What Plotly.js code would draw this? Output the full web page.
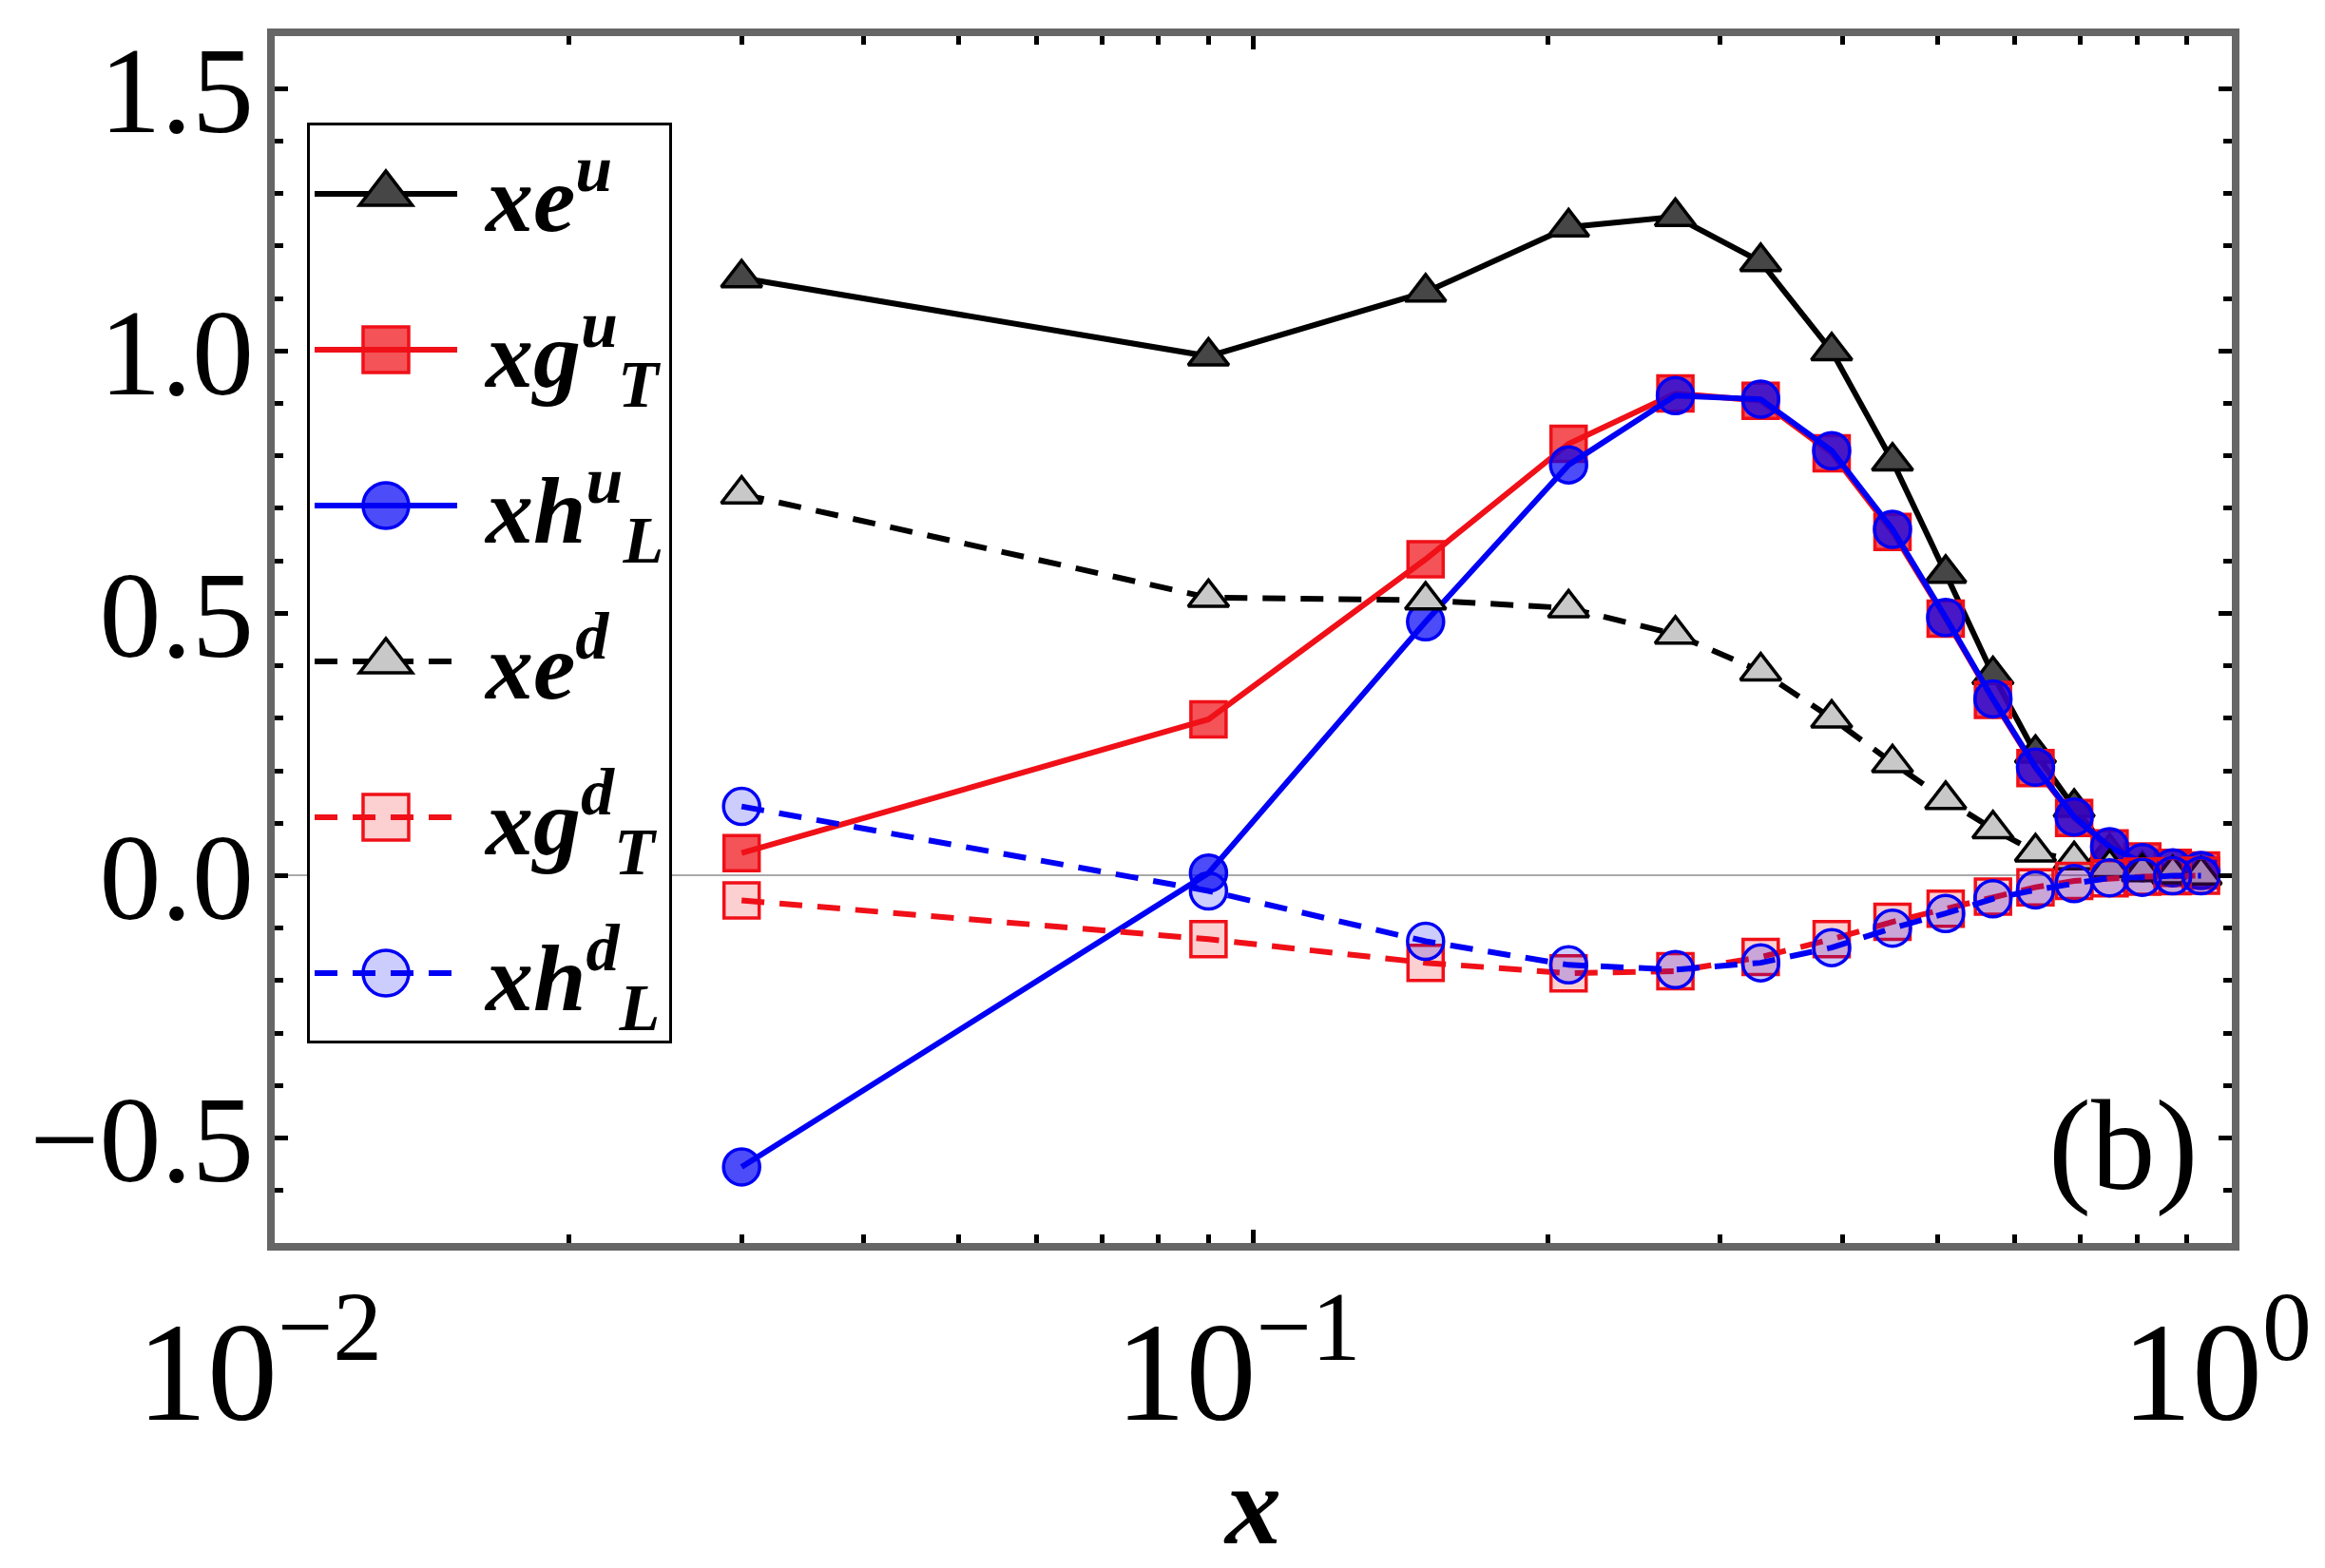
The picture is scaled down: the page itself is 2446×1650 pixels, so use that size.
<!DOCTYPE html>
<html>
<head>
<meta charset="utf-8">
<script src="https://cdn.plot.ly/plotly-3.0.1.min.js"></script>
<style>
  html, body { margin: 0; padding: 0; background: #fff; }
  #chart { width: 2446px; height: 1650px; }
</style>
</head>
<body>
<div id="chart"></div>
<script>
// x grid of the computed points
var xVals = [0.03, 0.09, 0.15, 0.21, 0.27, 0.33, 0.39, 0.45, 0.51, 0.57, 0.63, 0.69, 0.75, 0.81, 0.87, 0.93];

// u quark
var xeU  = [1.139, 0.99, 1.112, 1.236, 1.256, 1.17, 1.00, 0.79, 0.576, 0.383, 0.233, 0.13, 0.045, 0.012, 0.004, 0.001];
var xgTU = [0.043, 0.298, 0.603, 0.823, 0.919, 0.905, 0.805, 0.655, 0.49, 0.335, 0.205, 0.11, 0.052, 0.027, 0.015, 0.01];
var xhLU = [-0.555, 0.005, 0.484, 0.783, 0.915, 0.908, 0.81, 0.66, 0.492, 0.337, 0.207, 0.112, 0.055, 0.025, 0.015, 0.01];

// d quark
var xeD  = [0.727, 0.53, 0.525, 0.51, 0.46, 0.39, 0.30, 0.215, 0.145, 0.089, 0.045, 0.03, 0.015, 0.007, 0.003, 0.001];
var xgTD = [-0.047, -0.121, -0.166, -0.186, -0.182, -0.155, -0.121, -0.088, -0.063, -0.04, -0.022, -0.01, -0.005, -0.002, -0.001, 0];
var xhLD = [0.132, -0.029, -0.125, -0.17, -0.179, -0.166, -0.137, -0.10, -0.072, -0.044, -0.027, -0.015, -0.004, -0.003, 0, 0];

var names = ['xe<sup>u</sup>', 'xg<sup>u</sup><sub>T</sub>', 'xh<sup>u</sup><sub>L</sub>',
             'xe<sup>d</sup>', 'xg<sup>d</sup><sub>T</sub>', 'xh<sup>d</sup><sub>L</sub>'];

var xTickVals = [0.01, 0.1, 1];
var xTickText = ['10<sup>\u22122</sup>', '10<sup>\u22121</sup>', '10<sup>0</sup>'];
var yTickVals = [-0.5, 0, 0.5, 1, 1.5];

var serif = 'Liberation Serif, DejaVu Serif, serif';
var red = 'rgb(240,16,24)';
var blue = 'rgb(0,0,245)';
var dashed = '24px,16px';

function series(i, y, symbol, size, lineColor, fill, edge, dash) {
    return {
        x: xVals, y: y, name: '\u00a0' + names[i],
        legendgroup: 'g' + i,
        type: 'scatter', mode: 'lines+markers',
        line: { color: lineColor, width: 6, dash: dash },
        marker: { symbol: symbol, size: size, color: fill,
                  line: { color: edge, width: 3.5 } }
    };
}

var data = [
    series(0, xeU,  'triangle-up', 37, 'black', 'rgb(70,70,70)', 'black', 'solid'),
    series(1, xgTU, 'square', 37, red, 'rgba(240,16,24,0.72)', red, 'solid'),
    series(2, xhLU, 'circle', 38, blue, 'rgba(0,0,245,0.7)', blue, 'solid'),
    series(3, xeD,  'triangle-up', 37, 'black', 'rgb(200,200,200)', 'black', dashed),
    series(4, xgTD, 'square', 37, red, 'rgba(240,16,24,0.2)', red, dashed),
    series(5, xhLD, 'circle', 38, blue, 'rgba(0,0,245,0.2)', blue, dashed)
];

var frame = '#666666';

var layout = {
    width: 2446, height: 1650,
    margin: { l: 289, r: 98, t: 38, b: 342 },
    paper_bgcolor: 'white', plot_bgcolor: 'white',
    showlegend: true,
    font: { family: serif, color: 'black' },
    xaxis: {
        type: 'log', range: [-2, 0], tickvals: xTickVals, ticktext: xTickText,
        ticklabeloverflow: 'allow', ticklabelshift: -16,
        showgrid: false, zeroline: false,
        showline: true, linecolor: frame, linewidth: 8, mirror: 'ticks',
        ticks: 'inside', ticklen: 14, tickwidth: 5, tickcolor: 'black',
        minor: { ticks: 'inside', ticklen: 9, tickwidth: 5, tickcolor: 'black', dtick: 'D1' },
        tickfont: { family: serif, size: 148 },
        title: { text: 'x', standoff: 44,
                 font: { family: serif, size: 118, weight: 'bold', style: 'italic' } }
    },
    yaxis: {
        range: [-0.7, 1.6], tickvals: yTickVals, tickformat: '.1f',
        showgrid: false,
        zeroline: true, zerolinecolor: '#aaaaaa', zerolinewidth: 2,
        showline: true, linecolor: frame, linewidth: 8, mirror: 'ticks',
        ticks: 'inside', ticklen: 14, tickwidth: 5, tickcolor: 'black',
        minor: { ticks: 'inside', ticklen: 9, tickwidth: 5, tickcolor: 'black', dtick: 0.1 },
        ticklabelstandoff: -12,
        tickfont: { family: serif, size: 130 }
    },
    legend: {
        x: 0.0165, y: 0.928, xanchor: 'left', yanchor: 'top',
        bgcolor: 'white', bordercolor: 'black', borderwidth: 3,
        itemwidth: 150, tracegroupgap: 31,
        font: { family: serif, size: 100, weight: 'bold', style: 'italic' }
    },
    annotations: [{
        text: '(b)', xref: 'paper', yref: 'paper', x: 0.9835, y: 0.081,
        xanchor: 'right', yanchor: 'middle', showarrow: false,
        font: { family: serif, size: 135 }
    }]
};

Plotly.newPlot('chart', data, layout, { staticPlot: true }).then(function() {
    // legend symbols are capped at 16px by plotly, blow them up to match the plot markers
    document.querySelectorAll('.legend .legendpoints path.scatterpts').forEach(function(p) {
        var t = p.getAttribute('transform') || '';
        p.setAttribute('transform', t + ' scale(3)');
        var sw = parseFloat(p.style.strokeWidth) || 2;
        p.style.strokeWidth = (sw / 3) + 'px';
    });
});
</script>
</body>
</html>
